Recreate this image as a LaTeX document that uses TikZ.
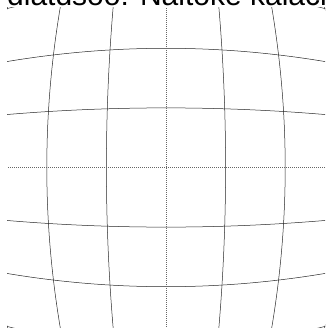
\documentclass[tikz,border=0pt]{standalone}
\usepackage{fontspec}
\setmainfont{Liberation Sans}
\begin{document}
\begin{tikzpicture}[x=1pt,y=-1pt,
  gridline/.style={line width=0.5pt,black!85},
  axisline/.style={line width=0.8pt,black!60,dash pattern=on 1.3pt off 0.7pt},
  captiontext/.style={inner sep=0pt,anchor=base west,font=\fontsize{30}{36}\selectfont}]
\useasboundingbox (0,0) rectangle (326,329);
\node[captiontext] (cap) at (7,5.5) {diatdsoo: Naltoke kalacli};
\begin{scope}
\clip (7,8) rectangle (325,327);
% horizontal lines (barrel distortion)
\foreach \d in {-178.8,-119.2,-59.6,59.6,119.2,178.8}{
  \draw[gridline] plot[domain=-170:170,samples=61,smooth]
    ({166+\x},{167.5+\d*(1-0.044*(\x/100)*(\x/100))});
}
% vertical lines
\foreach \c in {-178.8,-119.2,-59.6,59.6,119.2,178.8}{
  \draw[gridline] plot[domain=-170:170,samples=61,smooth]
    ({166+\c*(1-0.044*(\x/100)*(\x/100))},{167.5+\x});
}
\draw[axisline] (0,167.5) -- (330,167.5);
\draw[axisline] (166,0) -- (166,330);
\end{scope}
\end{tikzpicture}
\end{document}
